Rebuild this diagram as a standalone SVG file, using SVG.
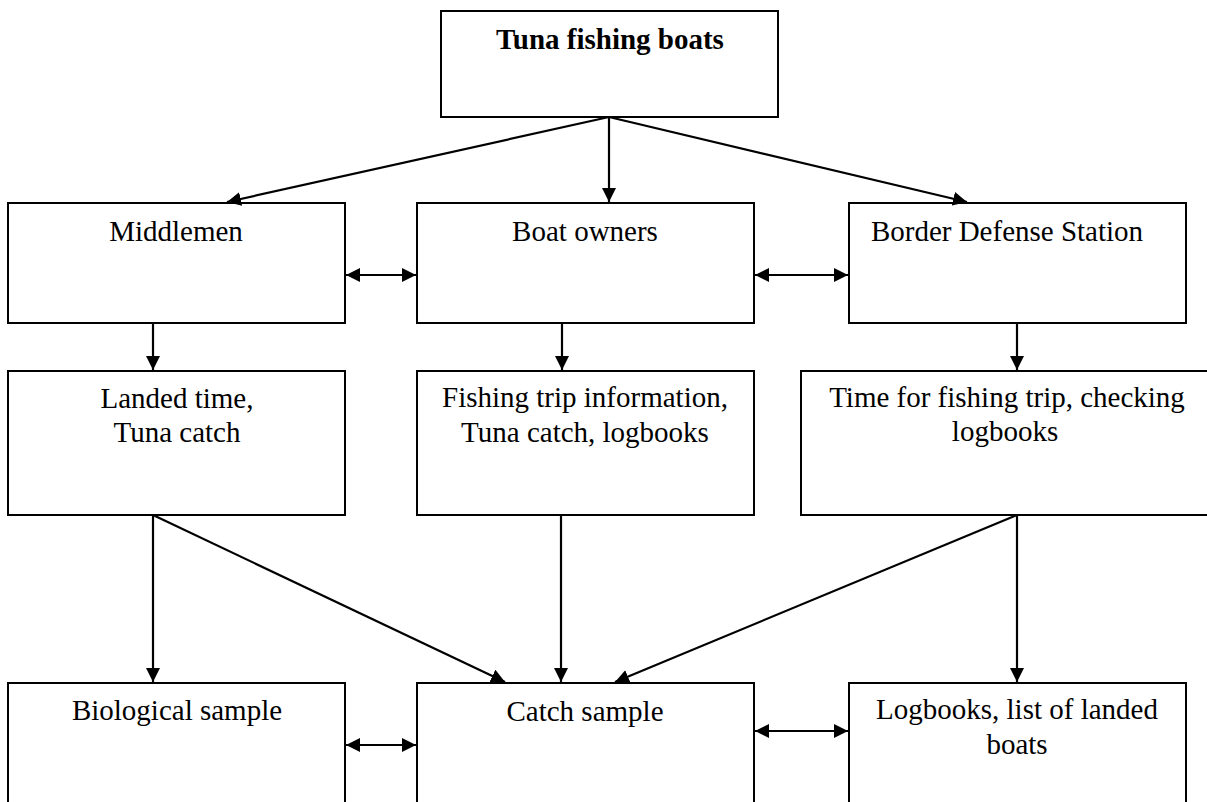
<svg xmlns="http://www.w3.org/2000/svg" width="1207" height="802" viewBox="0 0 1207 802">
<style>
.box{fill:#fff;stroke:#000;stroke-width:2}
.t{font-family:"Liberation Serif","Times New Roman",serif;font-size:29px;fill:#000;text-anchor:middle}
.b{font-weight:bold}
.c{stroke:#000;stroke-width:2.2;fill:none;marker-end:url(#ah)}
.d{marker-start:url(#ah)}
</style>
<defs>
<marker id="ah" markerUnits="userSpaceOnUse" markerWidth="15" markerHeight="14" refX="14" refY="7" orient="auto-start-reverse">
<path d="M0,0 L14,7 L0,14 z" fill="#000"/>
</marker>
</defs>
<rect width="1207" height="802" fill="#fff"/>
<g id="n-tuna"><rect class="box" x="441" y="11" width="337" height="106"/><text class="t b" x="610" y="49">Tuna fishing boats</text></g>
<g id="n-middlemen"><rect class="box" x="8" y="203" width="337" height="120"/><text class="t" x="176" y="241">Middlemen</text></g>
<g id="n-owners"><rect class="box" x="417" y="203" width="337" height="120"/><text class="t" x="585" y="241">Boat owners</text></g>
<g id="n-border"><rect class="box" x="849" y="203" width="337" height="120"/><text class="t" x="1007" y="241">Border Defense Station</text></g>
<g id="n-landed"><rect class="box" x="8" y="371" width="337" height="144"/><text class="t" x="177" y="408">Landed time,</text><text class="t" x="177" y="442">Tuna catch</text></g>
<g id="n-trip"><rect class="box" x="417" y="371" width="337" height="144"/><text class="t" x="585" y="407">Fishing trip information,</text><text class="t" x="585" y="442">Tuna catch, logbooks</text></g>
<g id="n-time"><rect class="box" x="801" y="371" width="420" height="144"/><text class="t" x="1007" y="407">Time for fishing trip, checking</text><text class="t" x="1005" y="441">logbooks</text></g>
<g id="n-bio"><rect class="box" x="8" y="683" width="337" height="140"/><text class="t" x="177" y="720">Biological sample</text></g>
<g id="n-catch"><rect class="box" x="417" y="683" width="337" height="140"/><text class="t" x="585" y="721">Catch sample</text></g>
<g id="n-logbooks"><rect class="box" x="849" y="683" width="337" height="140"/><text class="t" x="1017" y="719">Logbooks, list of landed</text><text class="t" x="1017" y="754">boats</text></g>
<g id="connectors">
<line class="c" x1="609" y1="117" x2="227" y2="202"/>
<line class="c" x1="609" y1="117" x2="609" y2="202"/>
<line class="c" x1="609" y1="117" x2="967" y2="202"/>
<line class="c d" x1="346" y1="275" x2="416" y2="275"/>
<line class="c d" x1="755" y1="275" x2="848" y2="275"/>
<line class="c" x1="153" y1="323" x2="153" y2="370"/>
<line class="c" x1="562" y1="323" x2="562" y2="370"/>
<line class="c" x1="1017" y1="323" x2="1017" y2="370"/>
<line class="c" x1="153" y1="515" x2="153" y2="682"/>
<line class="c" x1="153" y1="515" x2="505" y2="682"/>
<line class="c" x1="561" y1="515" x2="561" y2="682"/>
<line class="c" x1="1017" y1="515" x2="615" y2="682"/>
<line class="c" x1="1017" y1="515" x2="1017" y2="682"/>
<line class="c d" x1="346" y1="745" x2="416" y2="745"/>
<line class="c d" x1="755" y1="731" x2="848" y2="731"/>
</g>
</svg>
